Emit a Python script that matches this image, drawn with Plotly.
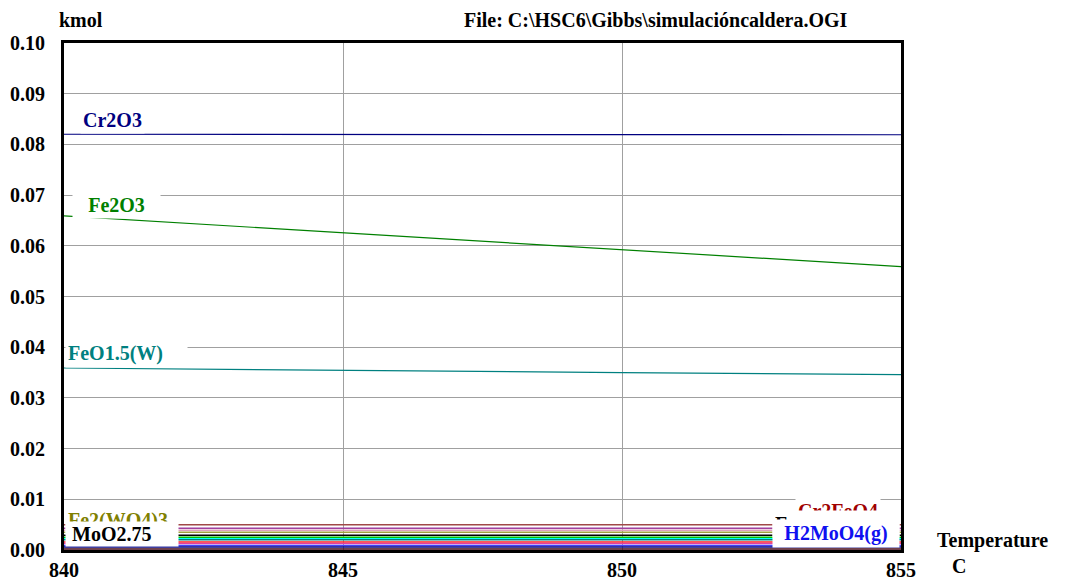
import plotly.graph_objects as go

# ---- data ----
temperature = [840, 845, 850, 855]

cr2o3 = [0.0820, 0.0820, 0.0819, 0.0819]
fe2o3 = [0.0659, 0.0626, 0.0593, 0.0559]
feo15w = [0.0359, 0.0354, 0.0350, 0.0346]

minor_names = ["Cr2FeO4", "Fe_b", "MnO_pink", "Fe2(WO4)3", "MoO2.75", "green_sp", "cyan_sp",
               "teal_sp", "red_sp", "pink_sp", "H2MoO4(g)", "navy_sp", "maroon_sp"]
minor_values = [
    [0.0050, 0.0050, 0.0050, 0.0050],
    [0.0043, 0.0043, 0.0043, 0.0043],
    [0.0039, 0.0039, 0.0039, 0.0039],
    [0.0035, 0.0035, 0.0035, 0.0035],
    [0.0029, 0.0029, 0.0029, 0.0029],
    [0.0025, 0.0025, 0.0025, 0.0025],
    [0.0022, 0.0022, 0.0022, 0.0022],
    [0.0020, 0.0020, 0.0020, 0.0020],
    [0.0016, 0.0016, 0.0016, 0.0016],
    [0.0013, 0.0013, 0.0013, 0.0013],
    [0.0009, 0.0009, 0.0009, 0.0009],
    [0.0006, 0.0006, 0.0006, 0.0006],
    [0.0002, 0.0002, 0.0002, 0.0002],
]
minor_colors = ["#A04848", "#A040A0", "#E0A0C0", "#A0A040", "#000000", "#00C000", "#00FFFF",
                "#008080", "#FF2020", "#E040A0", "#4040FF", "#000080", "#400010"]

x_ticks = [840, 845, 850, 855]
y_ticks = [0.00, 0.01, 0.02, 0.03, 0.04, 0.05, 0.06, 0.07, 0.08, 0.09, 0.10]
y_tick_text = ["0.00", "0.01", "0.02", "0.03", "0.04", "0.05", "0.06", "0.07", "0.08", "0.09", "0.10"]

FONT = "Liberation Serif"
FS = 20

fig = go.Figure()

for name, vals, col in zip(minor_names, minor_values, minor_colors):
    fig.add_trace(go.Scatter(x=temperature, y=vals, mode="lines", name=name,
                             line=dict(color=col, width=1.5)))

fig.add_trace(go.Scatter(x=temperature, y=feo15w, mode="lines", name="FeO1.5(W)",
                         line=dict(color="#008080", width=1.2)))
fig.add_trace(go.Scatter(x=temperature, y=fe2o3, mode="lines", name="Fe2O3",
                         line=dict(color="#008000", width=1.2)))
fig.add_trace(go.Scatter(x=temperature, y=cr2o3, mode="lines", name="Cr2O3",
                         line=dict(color="#000080", width=1.2)))

def label(x, y, text, color, width=None, align="left", pad=2):
    d = dict(x=x, y=y, xref="x", yref="y", text="<b>%s</b>" % text, showarrow=False,
             xanchor="left", yanchor="middle", bgcolor="white",
             font=dict(family=FONT, size=FS, color=color), borderpad=pad, align=align)
    if width:
        d["width"] = width
    fig.add_annotation(**d)

label(840.28, 0.0848, "Cr2O3", "#000080")
label(840.14, 0.0680, "Fe2O3", "#008000", width=83, align="center")
label(840.02, 0.0387, "FeO1.5(W)", "#008080", width=117)
label(840.02, 0.0058, "Fe2(WO4)3", "#808000")
label(840.02, 0.00315, "&nbsp;MoO2.75", "#000000", width=110, align="left", pad=1)
label(853.10, 0.0077, "Cr2FeO4", "#A00000")
label(852.69, 0.0051, "Fe", "#000000", width=122)
label(852.69, 0.00325, "H2MoO4(g)", "#1010F0", width=122, align="center")

fig.add_annotation(x=-0.008, y=1.045, xref="paper", yref="paper", text="<b>kmol</b>",
                   showarrow=False, xanchor="left", yanchor="middle",
                   font=dict(family=FONT, size=FS, color="black"))
fig.add_annotation(x=0.4755, y=1.045, xref="paper", yref="paper",
                   text="<b>File: C:\\HSC6\\Gibbs\\simulacióncaldera.OGI</b>",
                   showarrow=False, xanchor="left", yanchor="middle",
                   font=dict(family=FONT, size=FS, color="black"))
fig.add_annotation(x=1.0406, y=0.018, xref="paper", yref="paper", text="<b>Temperature</b>",
                   showarrow=False, xanchor="left", yanchor="middle",
                   font=dict(family=FONT, size=FS, color="black"))
fig.add_annotation(x=1.0586, y=-0.0316, xref="paper", yref="paper", text="<b>C</b>",
                   showarrow=False, xanchor="left", yanchor="middle",
                   font=dict(family=FONT, size=FS, color="black"))

# figure is offset by the page's 8px body margin, so the size and margins compensate
fig.update_layout(
    width=1064, height=575,
    margin=dict(l=56, r=171, t=35, b=33, autoexpand=False),
    paper_bgcolor="white", plot_bgcolor="white",
    showlegend=False,
    font=dict(family=FONT, size=FS, color="black"),
    xaxis=dict(range=[840, 855], tickvals=x_ticks, ticktext=["<b>%d</b>" % v for v in x_ticks],
               showgrid=True, gridcolor="#A0A0A0", gridwidth=1, zeroline=False,
               showline=True, linecolor="black", linewidth=3, mirror=True, ticks="",
               tickfont=dict(family=FONT, size=FS), automargin=False),
    yaxis=dict(range=[0, 0.10], tickvals=y_ticks, ticktext=["<b>%s</b>" % t for t in y_tick_text],
               showgrid=True, gridcolor="#A0A0A0", gridwidth=1, zeroline=False,
               showline=True, linecolor="black", linewidth=3, mirror=True, ticks="",
               ticklabelstandoff=12,
               tickfont=dict(family=FONT, size=FS), automargin=False),
)

fig.write_html("out.html")
